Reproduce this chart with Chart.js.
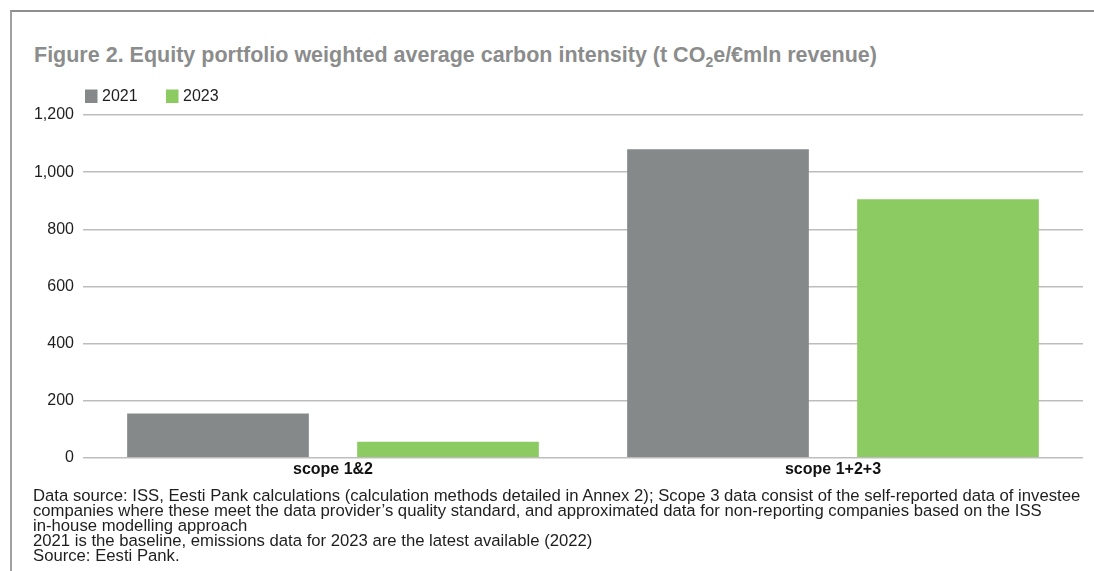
<!DOCTYPE html>
<html>
<head>
<meta charset="utf-8">
<script src="https://cdn.jsdelivr.net/npm/chart.js@4.4.1/dist/chart.umd.min.js"></script>
<style>
  html, body { margin: 0; padding: 0; background: #fff; }
  body { width: 1094px; height: 571px; position: relative; overflow: hidden; font-family: "Liberation Sans", Arial, Helvetica, sans-serif; }
  #frame { position: absolute; left: 10px; top: 10px; right: 0; bottom: -5px; border-top: 2px solid #8e8e8e; border-left: 2px solid #a0a0a0; }
  #title { position: absolute; left: 34px; top: 42px; font-size: 21.5px; line-height: 26px; font-weight: bold; color: #8b8c8c; white-space: nowrap; }
  #title sub { font-size: 14px; vertical-align: -5px; line-height: 0; }
  #chart { position: absolute; left: 0; top: 0; }
  #footer { position: absolute; left: 33px; top: 488px; width: 1056px; font-size: 16.7px; line-height: 15px; color: #1e1e1e; }
  .nw { white-space: nowrap; }
</style>
</head>
<body>
<div id="frame"></div>
<div id="title">Figure 2. Equity portfolio weighted average carbon intensity (t CO<sub>2</sub>e/€mln revenue)</div>
<canvas id="chart" width="1094" height="571"></canvas>
<div id="footer">Data source: ISS, Eesti Pank calculations (calculation methods detailed in Annex 2); Scope 3 data consist of the self-reported data of investee companies where these meet the data provider’s quality standard, and approximated data for non-reporting companies based on the ISS <span class="nw">in-house</span> modelling approach<br>2021 is the baseline, emissions data for 2023 are the latest available (2022)<br>Source: Eesti Pank.</div>
<script>
const categories = ["scope 1&2", "scope 1+2+3"];
const seriesNames = ["2021", "2023"];
const values2021 = [155, 1080];
const values2023 = [56, 905];
const yTicks = [0, 200, 400, 600, 800, 1000, 1200];

const colors = ["#85898a", "#8ccb62"];

const legendPlugin = {
  id: "customLegend",
  afterDraw(chart) {
    const ctx = chart.ctx;
    const xs = [85, 166];
    ctx.save();
    ctx.font = "16px 'Liberation Sans', Arial, sans-serif";
    ctx.textBaseline = "middle";
    ctx.textAlign = "left";
    chart.data.datasets.forEach((ds, i) => {
      ctx.fillStyle = ds.backgroundColor;
      ctx.fillRect(xs[i], 89.5, 12.5, 13.5);
      ctx.fillStyle = "#1e1e1e";
      ctx.fillText(ds.label, xs[i] + 17, 97);
    });
    ctx.restore();
  }
};

new Chart(document.getElementById("chart"), {
  type: "bar",
  data: {
    labels: categories,
    datasets: [
      { label: seriesNames[0], data: values2021, backgroundColor: colors[0], categoryPercentage: 0.92, barPercentage: 0.79 },
      { label: seriesNames[1], data: values2023, backgroundColor: colors[1], categoryPercentage: 0.92, barPercentage: 0.79 }
    ]
  },
  options: {
    responsive: false,
    devicePixelRatio: 1,
    animation: false,
    layout: { padding: { left: 34, right: 11, top: 115, bottom: 90 } },
    plugins: {
      legend: { display: false },
      title: { display: false },
      tooltip: { enabled: false }
    },
    scales: {
      x: {
        grid: { display: false, drawTicks: false },
        border: { display: false },
        ticks: { color: "#111", font: { family: "'Liberation Sans', Arial, sans-serif", size: 16, weight: "bold" }, padding: 2 }
      },
      y: {
        min: 0,
        max: 1200,
        afterBuildTicks(scale) { scale.ticks = yTicks.map(v => ({ value: v })); },
        afterFit(scale) { scale.width = 49; },
        grid: { color: "#bdbdbd", lineWidth: 1.5, drawTicks: false },
        border: { display: false },
        ticks: { color: "#1e1e1e", font: { family: "'Liberation Sans', Arial, sans-serif", size: 16 }, padding: 9 }
      }
    }
  },
  plugins: [legendPlugin]
});
</script>
</body>
</html>
